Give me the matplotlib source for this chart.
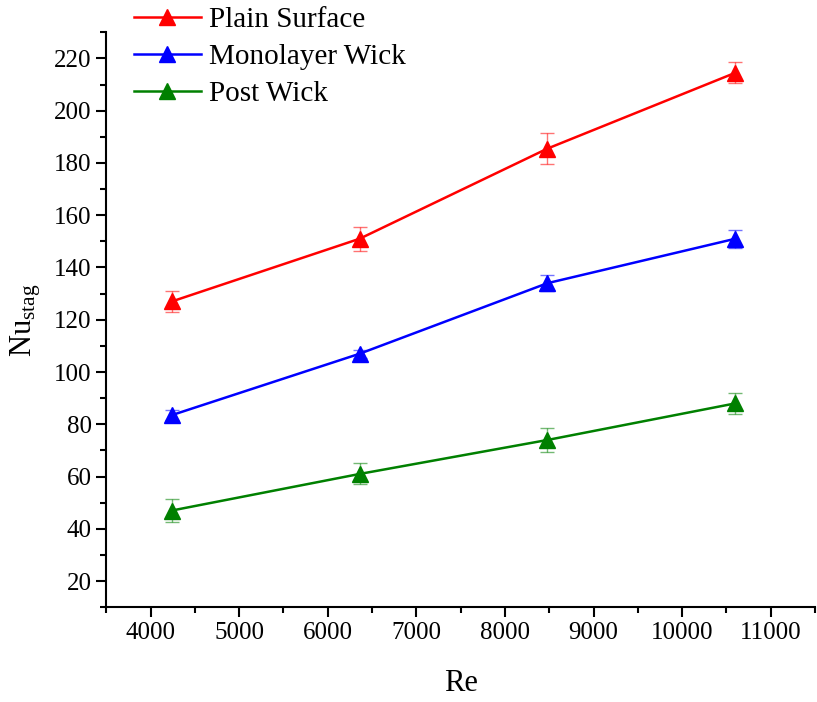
import numpy as np
import matplotlib
matplotlib.use("Agg")
import matplotlib.pyplot as plt
from matplotlib.ticker import MultipleLocator

plt.rcParams['font.family'] = ['Liberation Serif', 'DejaVu Serif']
plt.rcParams['mathtext.fontset'] = 'custom'
plt.rcParams['mathtext.rm'] = 'Liberation Serif'
plt.rcParams['mathtext.it'] = 'Liberation Serif:italic'

# Datos
re_vals = [4240, 6360, 8480, 10600]
nu_plain = [127, 151, 185.5, 214.5]
err_plain = [4, 4.5, 6, 4]
nu_mono = [83.5, 107, 134, 151]
err_mono = [2, 1.5, 3, 3.5]
nu_post = [47, 61, 74, 88]
err_post = [4.5, 4, 4.5, 4]

series = [
    ("Plain Surface", nu_plain, err_plain, "#ff0000"),
    ("Monolayer Wick", nu_mono, err_mono, "#0000ff"),
    ("Post Wick", nu_post, err_post, "#008000"),
]

fig = plt.figure(figsize=(8.17, 7.02), dpi=100)
ax = fig.add_axes([0.13, 0.135, 0.8676, 0.819])

handles = []
for nombre, y, e, col in series:
    ax.errorbar(re_vals, y, yerr=e, fmt="none", ecolor=col, alpha=0.55,
                elinewidth=1, capsize=5, capthick=1, zorder=2)
    h, = ax.plot(re_vals, y, color=col, lw=1.8, marker="^", ms=11,
                 label=nombre, zorder=3)
    handles.append(h)

ax.set_xlim(3500, 11500)
ax.set_ylim(10, 230)
ax.xaxis.set_major_locator(MultipleLocator(1000))
ax.xaxis.set_minor_locator(MultipleLocator(500))
ax.yaxis.set_major_locator(MultipleLocator(20))
ax.yaxis.set_minor_locator(MultipleLocator(10))
ax.set_yticks(np.arange(20, 221, 20))

for s in ("top", "right"):
    ax.spines[s].set_visible(False)
for s in ("left", "bottom"):
    ax.spines[s].set_linewidth(1.5)
ax.tick_params(which="major", direction="out", length=7, width=1.5, labelsize=18)
ax.tick_params(which="minor", direction="out", length=4, width=1.5)

ax.set_xlabel("Re", fontsize=22, labelpad=18)
ax.set_ylabel(r"Nu$_{\mathrm{stag}}$", fontsize=22, labelpad=8)

fig.legend(handles=handles, loc="upper left", bbox_to_anchor=(0.142, 1.015),
           frameon=False, fontsize=21, handlelength=2.3, handletextpad=0.3,
           labelspacing=0.36, borderaxespad=0.2)

fig.savefig("out.png", dpi=100)
